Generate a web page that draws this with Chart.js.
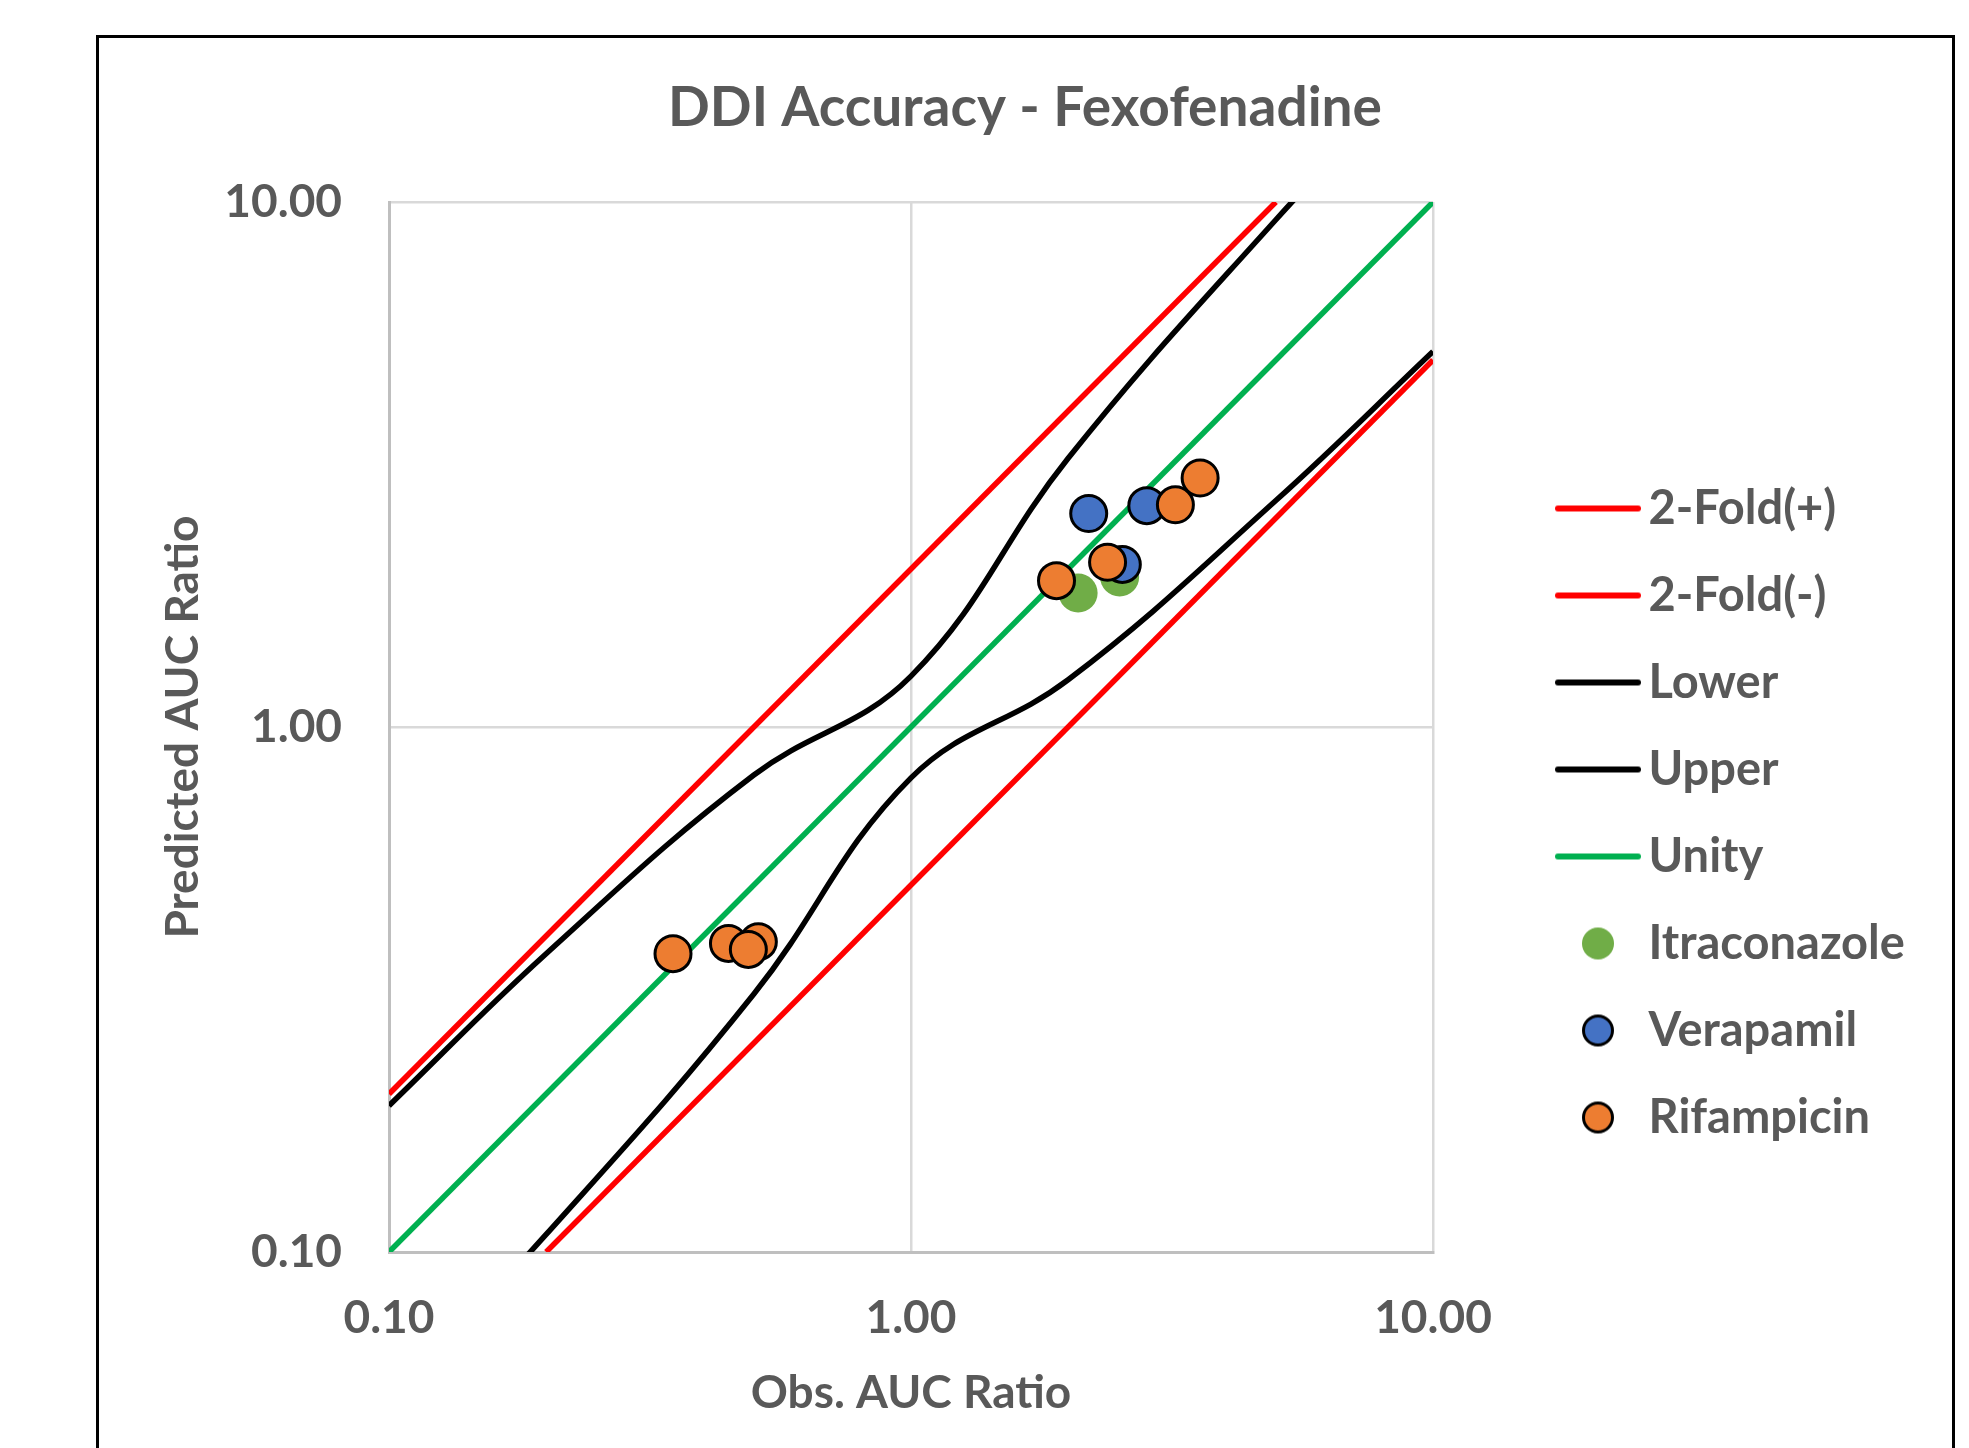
<!DOCTYPE html>
<html>
<head>
<meta charset="utf-8">
<title>DDI Accuracy - Fexofenadine</title>
<script src="https://cdn.jsdelivr.net/npm/chart.js@4.4.1/dist/chart.umd.min.js"></script>
<style>
  html, body { margin: 0; padding: 0; background: #fff; }
  canvas { display: block; }
</style>
</head>
<body>
<canvas id="grafico" width="1969" height="1448"></canvas>
<script>
// eixos (log)
const tickValues = [0.1, 1, 10];
const tickLabels = ["0.10", "1.00", "10.00"];

// linhas de referencia
const foldUpX = [0.1, 5];
const foldUpY = [0.2, 10];
const foldDownX = [0.2, 10];
const foldDownY = [0.1, 5];
const unityX = [0.1, 10];
const unityY = [0.1, 10];

// limites (curvas pretas)
const limitX = [0.1, 0.2, 0.5, 1, 2, 5, 10];
const lowerY = [0.052, 0.108, 0.31, 0.8, 1.23, 2.7, 5.19];
const upperY = [0.19, 0.37, 0.81, 1.25, 3.25, 9.25, 19.25];

// pontos observados x previstos
const itraX = [2.09, 2.51];
const itraY = [1.8, 1.93];
const veraX = [2.19, 2.83, 2.54];
const veraY = [2.55, 2.64, 2.04];
const rifaX = [3.58, 3.21, 1.9, 2.38, 0.35, 0.447, 0.51, 0.488];
const rifaY = [2.98, 2.65, 1.9, 2.06, 0.37, 0.387, 0.39, 0.377];

const cinza = "#595959";
const pts = (xs, ys) => xs.map((x, i) => ({ x: x, y: ys[i] }));

// icones da legenda
function iconeLinha(cor) {
  const c = document.createElement("canvas");
  c.width = 200; c.height = 40;
  const g = c.getContext("2d");
  g.strokeStyle = cor; g.lineWidth = 6; g.lineCap = "round";
  g.beginPath(); g.moveTo(109, 20); g.lineTo(189, 20); g.stroke();
  return c;
}
function iconePonto(cor, borda) {
  const c = document.createElement("canvas");
  c.width = 200; c.height = 40;
  const g = c.getContext("2d");
  g.fillStyle = cor;
  g.beginPath(); g.arc(149, 20, borda ? 14.5 : 16, 0, Math.PI * 2); g.fill();
  if (borda) { g.lineWidth = 3; g.strokeStyle = "#000"; g.stroke(); }
  return c;
}

const linha = (label, data, cor, ordem, tensao) => ({
  label: label, data: data, showLine: true, borderColor: cor, backgroundColor: cor,
  borderWidth: 5.5, pointRadius: 0, tension: tensao || 0, order: ordem
});
const ponto = (label, data, cor, borda, ordem) => ({
  label: label, data: data, showLine: false,
  pointBackgroundColor: cor, pointBorderColor: "#000",
  pointBorderWidth: borda ? 3 : 0, pointRadius: borda ? 18 : 19.5, order: ordem
});

const datasets = [
  linha("2-Fold(+)", pts(foldUpX, foldUpY), "#ff0000", 8),
  linha("2-Fold(-)", pts(foldDownX, foldDownY), "#ff0000", 7),
  linha("Lower", pts(limitX, lowerY), "#000000", 6, 0.4),
  linha("Upper", pts(limitX, upperY), "#000000", 5, 0.4),
  linha("Unity", pts(unityX, unityY), "#00b050", 4),
  ponto("Itraconazole", pts(itraX, itraY), "#70ad47", false, 3),
  ponto("Verapamil", pts(veraX, veraY), "#4472c4", true, 2),
  ponto("Rifampicin", pts(rifaX, rifaY), "#ed7d31", true, 1)
];

const icones = [
  iconeLinha("#ff0000"), iconeLinha("#ff0000"), iconeLinha("#000000"),
  iconeLinha("#000000"), iconeLinha("#00b050"),
  iconePonto("#70ad47", false), iconePonto("#4472c4", true), iconePonto("#ed7d31", true)
];

const fonte = (size) => ({ family: "Lato", size: size, weight: "bold", lineHeight: 1.2 });

function eixo(titulo, largura, altura, padTicks, padTitulo) {
  return {
    type: "logarithmic",
    min: 0.1,
    max: 10,
    afterBuildTicks: s => { s.ticks = tickValues.map(v => ({ value: v })); },
    afterFit: s => {
      if (largura) s.width = largura;
      if (altura) s.height = altura;
    },
    ticks: {
      padding: padTicks, color: cinza, font: fonte(46),
      autoSkip: false, maxRotation: 0,
      callback: (v, i) => tickLabels[i]
    },
    grid: { color: "#d9d9d9", lineWidth: 2.5, drawTicks: false },
    border: { color: "#bfbfbf", width: 3 },
    title: { display: true, text: titulo, color: cinza, font: fonte(46), padding: padTitulo }
  };
}

// moldura preta do grafico
const moldura = {
  id: "moldura",
  afterDraw(chart) {
    const ctx = chart.ctx;
    ctx.save();
    ctx.strokeStyle = "#000";
    ctx.lineWidth = 3;
    ctx.strokeRect(97.5, 36.5, 1856, 1500);
    ctx.restore();
  }
};

const grafico = new Chart(document.getElementById("grafico"), {
  type: "scatter",
  data: { datasets: datasets },
  plugins: [moldura],
  options: {
    responsive: false,
    animation: false,
    events: [],
    layout: { padding: { left: 141, right: 60, top: 0, bottom: 0 } },
    scales: {
      x: eixo("Obs. AUC Ratio", 0, 196, 39, { top: 0, bottom: 27 }),
      y: eixo("Predicted AUC Ratio", 248, 0, 47, { top: 14.4, bottom: 0 })
    },
    plugins: {
      tooltip: { enabled: false },
      title: {
        display: true,
        text: "DDI Accuracy - Fexofenadine",
        color: cinza,
        font: fonte(55),
        padding: { top: 75, bottom: 61 }
      },
      legend: {
        position: "right",
        align: "start",
        maxWidth: 476,
        title: { display: true, text: "", font: { size: 10, lineHeight: 1 }, padding: { top: 435, bottom: 0 } },
        labels: {
          usePointStyle: true,
          pointStyleWidth: 152,
          padding: 40,
          color: cinza,
          font: fonte(47),
          generateLabels: chart => chart.data.datasets.map((ds, i) => ({
            text: ds.label,
            pointStyle: icones[i],
            fontColor: cinza,
            fillStyle: "transparent",
            strokeStyle: "transparent",
            lineWidth: 0,
            hidden: false,
            datasetIndex: i
          }))
        }
      }
    }
  }
});
</script>
</body>
</html>
